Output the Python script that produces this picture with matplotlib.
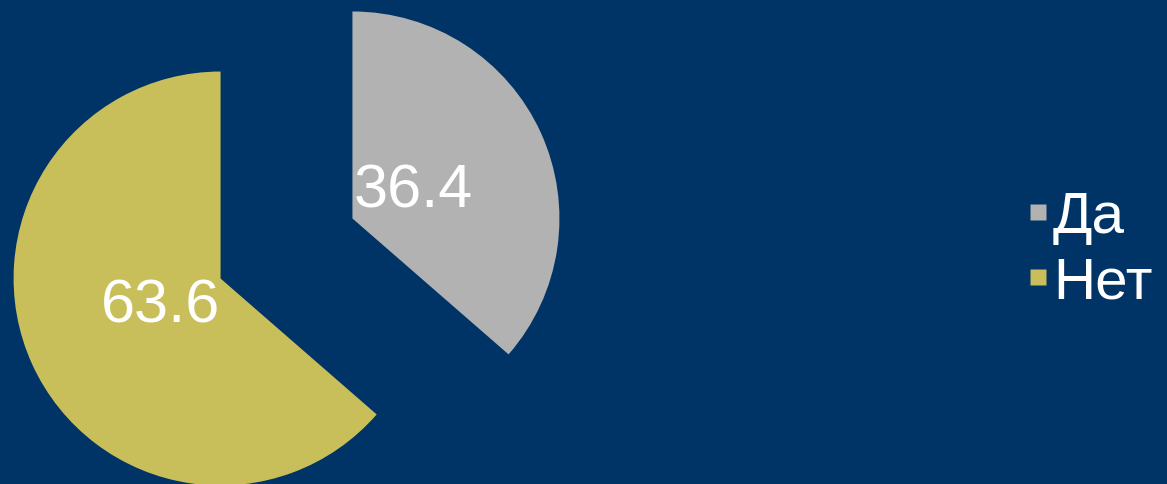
import matplotlib
matplotlib.use("Agg")
import matplotlib.pyplot as plt
from matplotlib.lines import Line2D

categories = ["Да", "Нет"]
values = [36.4, 63.6]
colors = ["#B2B2B2", "#C8BE5A"]
bg = "#003366"

plt.rcParams['font.family'] = ['Liberation Sans', 'DejaVu Sans']

W, H = 1167, 485
fig = plt.figure(figsize=(W / 100, H / 100), dpi=100, facecolor=bg)
ax = fig.add_axes([0, 0, 1, 1])
ax.set_facecolor(bg)

R = 207.0  # pixels per data unit
cx, cy = 286.5, 485 - 249.5

wedges, texts, autotexts = ax.pie(
    values, colors=colors, startangle=90, counterclock=False,
    explode=[0.35, 0.35], radius=1, center=(0, 0),
    autopct=lambda p: f"{p:.1f}", pctdistance=0.32,
    textprops=dict(color="white", fontsize=44),
    wedgeprops=dict(linewidth=0),
)

ax.set_xlim(-cx / R, (W - cx) / R)
ax.set_ylim(-cy / R, (H - cy) / R)
ax.set_aspect('auto')
ax.axis('off')

handles = [Line2D([0], [0], marker='s', linestyle='none', markersize=11,
                  markerfacecolor=c, markeredgecolor='none') for c in colors]
leg = fig.legend(handles, categories, loc='center left',
                 bbox_to_anchor=(1026 / W, 1 - 251 / H),
                 frameon=False, fontsize=42, labelcolor='white',
                 handlelength=0.4, handletextpad=0.06, labelspacing=0.2,
                 borderpad=0, borderaxespad=0)

fig.savefig("out.png", dpi=100, facecolor=bg)
